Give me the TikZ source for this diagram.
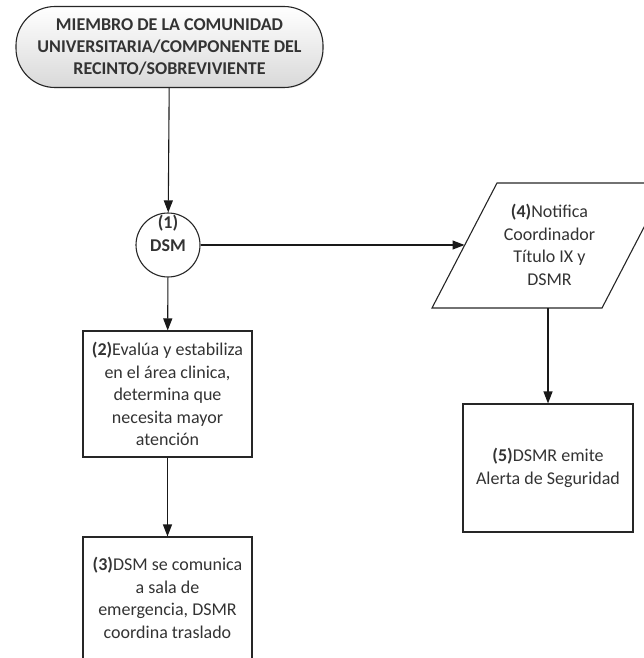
\documentclass[tikz,border=0pt]{standalone}
\usepackage{fontspec}
\setmainfont{Carlito}
\usetikzlibrary{arrows.meta,shadows}

\tikzset{
    flow/.style   = {draw=black!85, line width=1.1pt, text=black!80, align=center,
                     font=\fontsize{18}{22.5}\selectfont, inner sep=2pt},
    procbox/.style= {flow, rectangle, minimum width=169pt},
    startbox/.style={flow, rectangle, rounded corners=39pt, minimum width=307pt,
                     minimum height=81pt, font=\fontsize{18}{22}\selectfont\bfseries,
                     top color=white, bottom color=black!15,
                     drop shadow={opacity=0.15, shadow xshift=1pt, shadow yshift=-1pt}},
    decision/.style={flow, circle, minimum size=64pt, inner sep=0pt},
    conn/.style   = {line width=1.1pt, draw=black!90, -{Triangle[length=12pt,width=9pt]}},
}

\begin{document}
\begin{tikzpicture}[x=1pt,y=-1pt]
    \useasboundingbox (0,0) rectangle (643,658);

    \node[startbox] (start) at (169.5,47)
        {MIEMBRO DE LA COMUNIDAD\\UNIVERSITARIA/COMPONENTE DEL\\RECINTO/SOBREVIVIENTE};

    \node[decision] (dsm) at (168,245) {};
    \node[flow, draw=none, font=\fontsize{18}{23}\selectfont\bfseries] (dsmtxt)
        at ([yshift=11.5pt]dsm.center) {(1)\\DSM};

    \node[procbox, minimum height=126pt] (eval) at (167.5,394)
        {\textbf{(2)}Evalúa y estabiliza\\en el área clinica,\\determina que\\necesita mayor\\atención};
    \node[procbox, minimum height=122pt] (sala) at (167.5,598)
        {\textbf{(3)}DSM se comunica\\a sala de\\emergencia, DSMR\\coordina traslado};

    % parallelogram (4)
    \coordinate (p4bl) at (432,308);
    \coordinate (p4br) at (602,308);
    \coordinate (p4tr) at (667,183);
    \coordinate (p4tl) at (497,183);
    \coordinate (p4w)  at (464.5,245);
    \coordinate (p4s)  at (548,308);
    \draw[flow] (p4bl) -- (p4br) -- (p4tr) -- (p4tl) -- cycle;
    \node[flow, draw=none] (notif) at (549.5,245)
        {\textbf{(4)}Notifica\\Coordinador\\Título IX y\\DSMR};

    \node[procbox, minimum width=170pt, minimum height=128pt] (alerta) at (548,468)
        {\textbf{(5)}DSMR emite\\Alerta de Seguridad};

    \draw[conn] (start) -- (dsm);
    \draw[conn] (dsm) -- (eval);
    \draw[conn] (eval) -- (sala);
    \draw[conn] (dsm) -- (p4w);
    \draw[conn] (p4s) -- (alerta);
\end{tikzpicture}
\end{document}
